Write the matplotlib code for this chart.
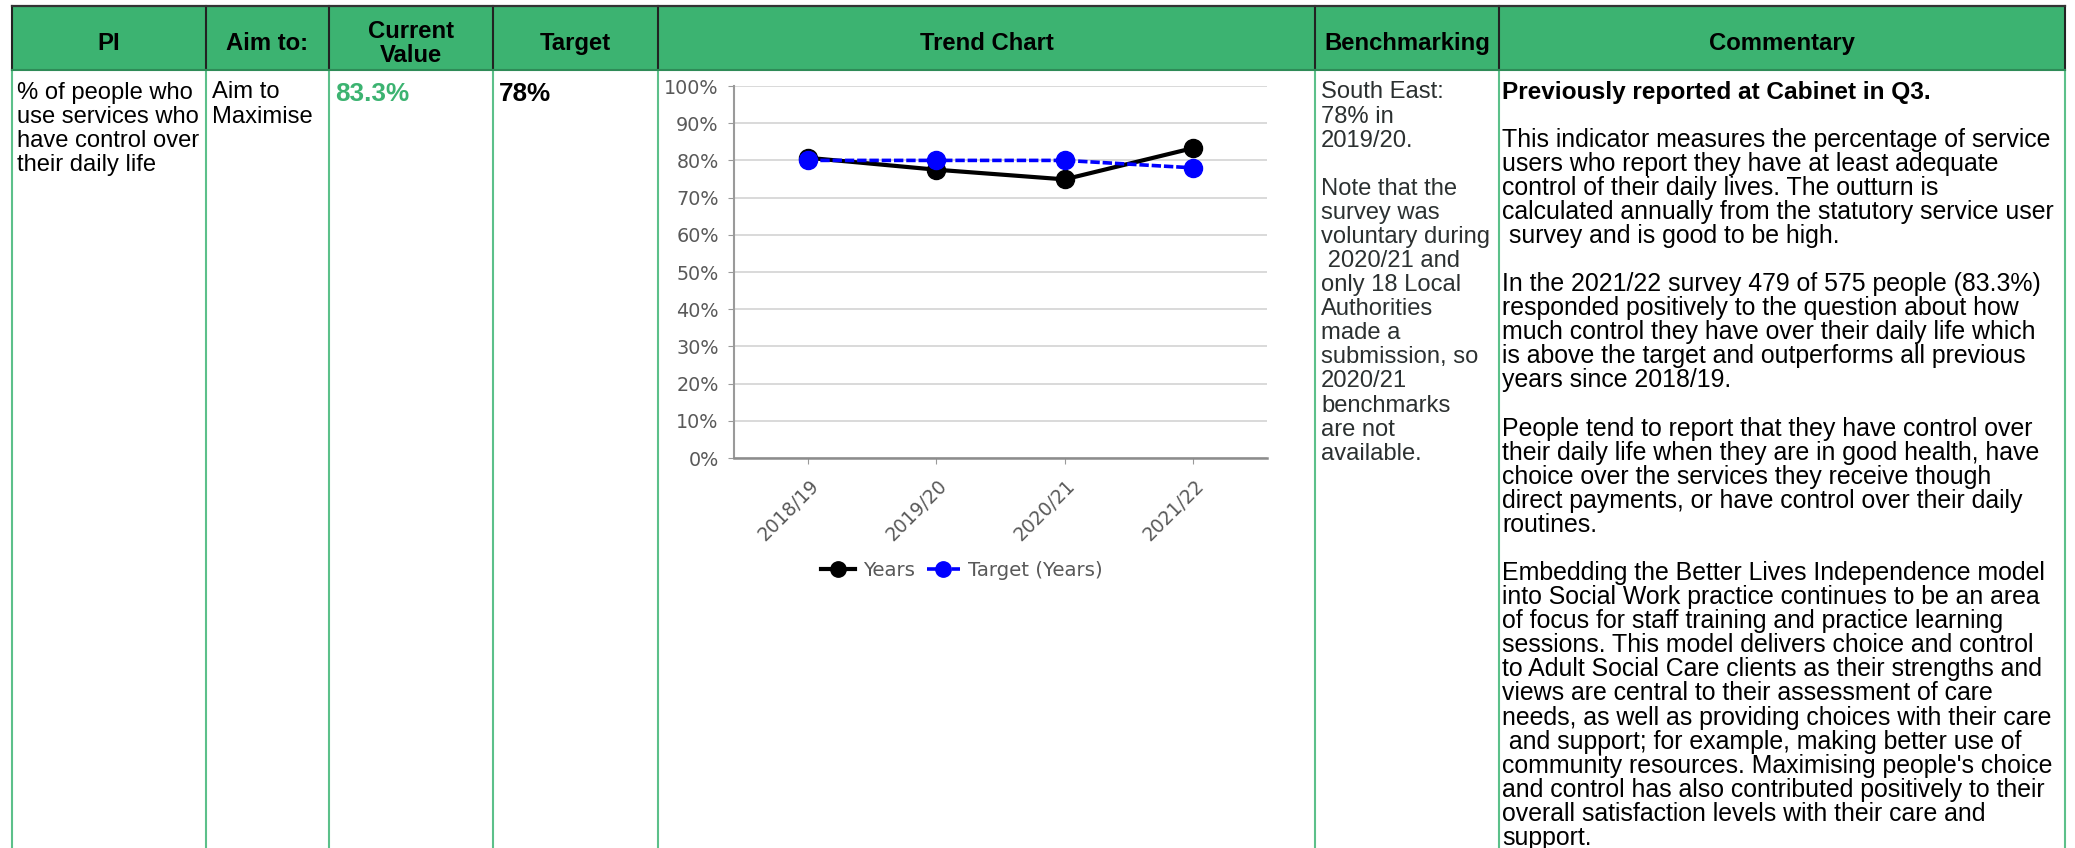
import numpy as np
import matplotlib.pyplot as plt
from matplotlib.patches import Rectangle
from matplotlib.transforms import ScaledTranslation

plt.rcParams["font.family"] = ["Liberation Sans", "DejaVu Sans"]

# ---- data ----
years = ['2018/19', '2019/20', '2020/21', '2021/22']
years_values = [80.7, 77.5, 74.9, 83.3]
target_values = [80, 80, 80, 78]
y_ticks = [0, 10, 20, 30, 40, 50, 60, 70, 80, 90, 100]

headers = ['PI', 'Aim to:', 'Current\nValue', 'Target', 'Trend Chart', 'Benchmarking', 'Commentary']
pi_lines = ['% of people who', 'use services who', 'have control over', 'their daily life']
aim_lines = ['Aim to', 'Maximise']
current_value = '83.3%'
target_value = '78%'
bench_lines = ['South East:', '78% in', '2019/20.', '', 'Note that the', 'survey was',
               'voluntary during', ' 2020/21 and', 'only 18 Local', 'Authorities', 'made a',
               'submission, so', '2020/21', 'benchmarks', 'are not', 'available.']
comment_title = 'Previously reported at Cabinet in Q3.'
comment_lines = [
    '',
    'This indicator measures the percentage of service',
    'users who report they have at least adequate',
    'control of their daily lives. The outturn is',
    'calculated annually from the statutory service user',
    ' survey and is good to be high.',
    '',
    'In the 2021/22 survey 479 of 575 people (83.3%)',
    'responded positively to the question about how',
    'much control they have over their daily life which',
    'is above the target and outperforms all previous',
    'years since 2018/19.',
    '',
    'People tend to report that they have control over',
    'their daily life when they are in good health, have',
    'choice over the services they receive though',
    'direct payments, or have control over their daily',
    'routines.',
    '',
    'Embedding the Better Lives Independence model',
    'into Social Work practice continues to be an area',
    'of focus for staff training and practice learning',
    'sessions. This model delivers choice and control',
    'to Adult Social Care clients as their strengths and',
    'views are central to their assessment of care',
    'needs, as well as providing choices with their care',
    ' and support; for example, making better use of',
    "community resources. Maximising people's choice",
    'and control has also contributed positively to their',
    'overall satisfaction levels with their care and',
    'support.',
]

# ---- layout (pixels) ----
W, H = 2075, 848
GREEN = '#3cb371'
LINE_GREEN = '#5cc08a'
col_edges = [12, 206, 329, 493, 658, 1315, 1499, 2065]
head_top, head_bot = 6, 70
first_base = 98.5
line_h = 24.08
BODY = 17.1
COMMENT = 17.9
HEAD = 17.2

fig = plt.figure(figsize=(W / 100, H / 100), dpi=100)
tab = fig.add_axes([0, 0, 1, 1])
tab.set_xlim(0, W)
tab.set_ylim(H, 0)
tab.axis('off')

tab.add_patch(Rectangle((col_edges[0], head_top), col_edges[-1] - col_edges[0],
                        head_bot - head_top, facecolor=GREEN, edgecolor='none'))
for x in col_edges:
    tab.plot([x, x], [head_top, head_bot], color='#222222', lw=1.5)
    tab.plot([x, x], [head_bot, H], color=LINE_GREEN, lw=1.5)
tab.plot([col_edges[0], col_edges[-1]], [head_top, head_top], color='#333333', lw=1.6)
tab.plot([col_edges[0], col_edges[-1]], [head_bot, head_bot], color='#2e8b57', lw=1.5)

# header text
for i, h in enumerate(headers):
    cx = (col_edges[i] + col_edges[i + 1]) / 2
    if '\n' in h:
        for k, part in enumerate(h.split('\n')):
            tab.text(cx, 37.5 + k * 24, part, ha='center', va='baseline',
                     fontsize=HEAD, fontweight='bold', color='black')
    else:
        tab.text(cx, 50, h, ha='center', va='baseline',
                 fontsize=HEAD, fontweight='bold', color='black')


def cell_lines(x, lines, size=BODY, **kw):
    for k, s in enumerate(lines):
        if s:
            tab.text(x, first_base + k * line_h, s, ha='left', va='baseline',
                     fontsize=size, **kw)


cell_lines(17, pi_lines, color='black')
cell_lines(212, aim_lines, color='black')
tab.text(335, 101, current_value, ha='left', va='baseline', fontsize=18.8,
         fontweight='bold', color=GREEN)
tab.text(499, 101, target_value, ha='left', va='baseline', fontsize=18.8,
         fontweight='bold', color='black')
cell_lines(1321, bench_lines, color='#2b3030')
tab.text(1502, first_base, comment_title, ha='left', va='baseline', fontsize=17.6,
         fontweight='bold', color='black')
cell_lines(1502, [''] + comment_lines, size=COMMENT, color='black')

# ---- trend chart ----
ax_l, ax_r, ax_t, ax_b = 734, 1267, 86, 458
ax = fig.add_axes([ax_l / W, (H - ax_b) / H, (ax_r - ax_l) / W, (ax_b - ax_t) / H])
x = np.arange(len(years))
ax.plot(x, years_values, color='black', lw=3.0, marker='o', ms=13,
        label='Years', zorder=3)
ax.plot(x, target_values, color='blue', lw=2.6, ls=(0, (2.6, 0.8)), marker='o',
        ms=13, label='Target (Years)', zorder=4)

ax.set_xlim(-0.577, 3.577)
ax.set_ylim(0, 100)
ax.set_yticks(y_ticks)
ax.set_yticklabels([f'{v}%' for v in y_ticks])
ax.set_xticks(x)
ax.set_xticklabels(years, rotation=45, ha='right', va='center', rotation_mode='anchor')
ax.yaxis.grid(True, color='#d9d9d9', lw=1.4)
ax.set_axisbelow(True)
for s in ['top', 'right']:
    ax.spines[s].set_visible(False)
ax.spines['left'].set_color('#9a9a9a')
ax.spines['left'].set_linewidth(1.5)
ax.spines['bottom'].set_color('#8c8c8c')
ax.spines['bottom'].set_linewidth(1.8)
ax.tick_params(axis='y', length=4, color='#9a9a9a', pad=7, labelsize=13.8,
               labelcolor='#595959', labelfontfamily='DejaVu Sans')
ax.tick_params(axis='x', length=4, color='#9a9a9a', pad=14, labelsize=13.5,
               labelcolor='#595959', labelfontfamily='DejaVu Sans')
for lab in ax.get_xticklabels():
    lab.set_transform(lab.get_transform() + ScaledTranslation(0.08, 0, fig.dpi_scale_trans))

leg = ax.legend(loc='center', bbox_to_anchor=(0.428, -0.303), ncol=2, frameon=False,
                prop={'family': 'DejaVu Sans', 'size': 14.2}, labelcolor='#595959',
                handlelength=1.7, handletextpad=0.4, columnspacing=0.6, markerscale=0.85)

fig.savefig('out.png', dpi=100)
